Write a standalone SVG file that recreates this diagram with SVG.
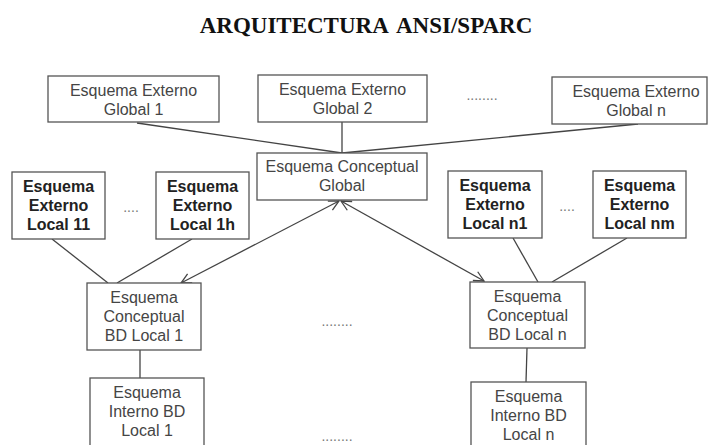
<svg xmlns="http://www.w3.org/2000/svg" width="710" height="445" viewBox="0 0 710 445">
  <style>
    .box { fill: #ffffff; stroke: #555555; stroke-width: 1.3; }
    .txt { font-family: "Liberation Sans", Arial, sans-serif; font-size: 16px; fill: #454545; text-anchor: middle; }
    .bold { font-weight: bold; fill: #222222; }
    .dots { font-family: "Liberation Sans", Arial, sans-serif; font-size: 14px; fill: #777777; text-anchor: middle; }
    .title { font-family: "Liberation Serif", "Times New Roman", serif; font-size: 23px; font-weight: bold; fill: #111111; text-anchor: middle; word-spacing: 4px; }
    .link { stroke: #444444; stroke-width: 1.3; fill: none; }
  </style>
  <defs>
    <marker id="open-arrow" viewBox="0 0 12 12" refX="11" refY="6" markerWidth="12" markerHeight="12" markerUnits="userSpaceOnUse" orient="auto-start-reverse">
      <path d="M1,1 L11,6 L1,11" fill="none" stroke="#444444" stroke-width="1.3"/>
    </marker>
  </defs>

  <rect width="710" height="445" fill="#ffffff"/>

  <text class="title" x="366" y="33">ARQUITECTURA ANSI/SPARC</text>

  <!-- connectors -->
  <g id="connectors">
    <line class="link" x1="137" y1="123" x2="342" y2="153"/>
    <line class="link" x1="342" y1="122" x2="342" y2="153"/>
    <line class="link" x1="638" y1="124" x2="342" y2="153"/>
    <line class="link" x1="339" y1="201" x2="181" y2="283" marker-start="url(#open-arrow)" marker-end="url(#open-arrow)"/>
    <line class="link" x1="341" y1="201" x2="484" y2="281" marker-start="url(#open-arrow)" marker-end="url(#open-arrow)"/>
    <line class="link" x1="52" y1="239" x2="108" y2="283"/>
    <line class="link" x1="192" y1="239" x2="117" y2="283"/>
    <line class="link" x1="513" y1="238" x2="538" y2="282"/>
    <line class="link" x1="627" y1="238" x2="552" y2="282"/>
    <line class="link" x1="140" y1="350" x2="140" y2="378"/>
    <line class="link" x1="527" y1="348" x2="526" y2="382"/>
  </g>

  <!-- external global schemas -->
  <g id="ext-global-1">
    <rect class="box" x="48" y="76" width="171" height="46"/>
    <text class="txt" x="133.5" y="96">Esquema Externo</text>
    <text class="txt" x="133.5" y="115">Global 1</text>
  </g>
  <g id="ext-global-2">
    <rect class="box" x="258" y="75" width="169" height="47"/>
    <text class="txt" x="342.5" y="95">Esquema Externo</text>
    <text class="txt" x="342.5" y="114">Global 2</text>
  </g>
  <text class="dots" x="482" y="100">........</text>
  <g id="ext-global-n">
    <rect class="box" x="552" y="77" width="155" height="47"/>
    <text class="txt" x="636" y="97">Esquema Externo</text>
    <text class="txt" x="636" y="116">Global n</text>
  </g>

  <!-- global conceptual schema -->
  <g id="conceptual-global">
    <rect class="box" x="257" y="153" width="170" height="47"/>
    <text class="txt" x="342" y="172">Esquema Conceptual</text>
    <text class="txt" x="342" y="191">Global</text>
  </g>

  <!-- local external schemas -->
  <g id="ext-local-11">
    <rect class="box" x="12" y="172" width="93" height="67"/>
    <text class="txt bold" x="58.5" y="192">Esquema</text>
    <text class="txt bold" x="58.5" y="211">Externo</text>
    <text class="txt bold" x="58.5" y="230">Local 11</text>
  </g>
  <text class="dots" x="131" y="212">....</text>
  <g id="ext-local-1h">
    <rect class="box" x="156" y="172" width="93" height="67"/>
    <text class="txt bold" x="202.5" y="192">Esquema</text>
    <text class="txt bold" x="202.5" y="211">Externo</text>
    <text class="txt bold" x="202.5" y="230">Local 1h</text>
  </g>
  <g id="ext-local-n1">
    <rect class="box" x="448" y="171" width="94" height="67"/>
    <text class="txt bold" x="495" y="191">Esquema</text>
    <text class="txt bold" x="495" y="210">Externo</text>
    <text class="txt bold" x="495" y="229">Local n1</text>
  </g>
  <text class="dots" x="567" y="211">....</text>
  <g id="ext-local-nm">
    <rect class="box" x="593" y="171" width="93" height="67"/>
    <text class="txt bold" x="639.5" y="191">Esquema</text>
    <text class="txt bold" x="639.5" y="210">Externo</text>
    <text class="txt bold" x="639.5" y="229">Local nm</text>
  </g>

  <!-- local conceptual schemas -->
  <g id="conceptual-local-1">
    <rect class="box" x="87" y="283" width="114" height="67"/>
    <text class="txt" x="144" y="303">Esquema</text>
    <text class="txt" x="144" y="322">Conceptual</text>
    <text class="txt" x="144" y="341">BD Local 1</text>
  </g>
  <text class="dots" x="337" y="326">........</text>
  <g id="conceptual-local-n">
    <rect class="box" x="470" y="282" width="115" height="66"/>
    <text class="txt" x="527.5" y="302">Esquema</text>
    <text class="txt" x="527.5" y="321">Conceptual</text>
    <text class="txt" x="527.5" y="340">BD Local n</text>
  </g>

  <!-- local internal schemas -->
  <g id="internal-local-1">
    <rect class="box" x="90" y="378" width="114" height="72"/>
    <text class="txt" x="147" y="398">Esquema</text>
    <text class="txt" x="147" y="417">Interno BD</text>
    <text class="txt" x="147" y="436">Local 1</text>
  </g>
  <text class="dots" x="337" y="441">........</text>
  <g id="internal-local-n">
    <rect class="box" x="471" y="382" width="115" height="68"/>
    <text class="txt" x="528.5" y="402">Esquema</text>
    <text class="txt" x="528.5" y="421">Interno BD</text>
    <text class="txt" x="528.5" y="440">Local n</text>
  </g>
</svg>
